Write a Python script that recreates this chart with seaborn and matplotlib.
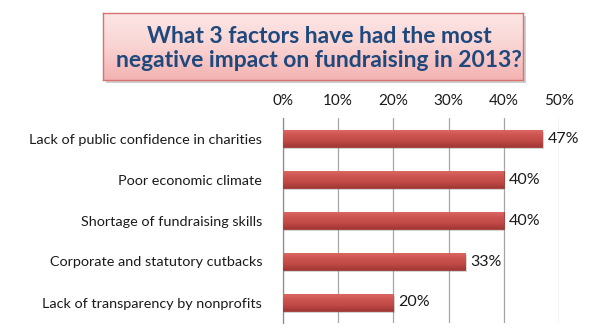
import matplotlib
matplotlib.use("Agg")
import matplotlib.pyplot as plt
import seaborn as sns
import pandas as pd
import numpy as np
from matplotlib.patches import FancyBboxPatch

factors = [
    "Lack of public confidence in charities",
    "Poor economic climate",
    "Shortage of fundraising skills",
    "Corporate and statutory cutbacks",
    "Lack of transparency by nonprofits",
]
shares = [47, 40, 40, 33, 20]
tick_values = [0, 10, 20, 30, 40, 50]
tick_labels = ["0%", "10%", "20%", "30%", "40%", "50%"]
title = "What 3 factors have had the most\nnegative impact on fundraising in 2013?"

df = pd.DataFrame({"factor": factors, "share": shares})

sns.set_style("white")
plt.rcParams["font.family"] = ["Lato", "DejaVu Sans"]

W, H = 600, 329
fig = plt.figure(figsize=(W / 100, H / 100), dpi=100)
ax = fig.add_axes([283 / W, 1 - 323 / H, (559 - 283) / W, (323 - 118) / H])

sns.barplot(data=df, x="share", y="factor", color="#C4504C", width=0.42,
            saturation=1, ax=ax, edgecolor="#9E3B38", linewidth=0.6, zorder=3)

# soft shading on each bar: lighter top edge, darker bottom edge
cmap = matplotlib.colors.LinearSegmentedColormap.from_list(
    "bar", ["#DD6A65", "#CE5551", "#C04A47", "#A33734"])
for p in ax.patches:
    x0, y0 = p.get_x(), p.get_y()
    w, h = p.get_width(), p.get_height()
    grad = np.linspace(0, 1, 64).reshape(-1, 1)
    im = ax.imshow(grad, extent=[x0, x0 + w, y0, y0 + h], aspect="auto",
                   cmap=cmap, zorder=3.5, origin="lower")
    im.set_clip_path(p)
    # drop shadow
    sh = matplotlib.patches.Rectangle((x0 + 0.25, y0 + h * 0.12), w, h,
                                      facecolor="#888888", alpha=0.35,
                                      edgecolor="none", zorder=2.5)
    ax.add_patch(sh)

for i, v in enumerate(shares):
    ax.text(v + 0.9, i, f"{v}%", va="center", ha="left", fontsize=11.5,
            color="#1a1a1a", zorder=5)

ax.set_xlim(0, 50)
ax.set_ylim(len(factors) - 0.5, -0.5)
ax.set_xticks(tick_values)
ax.set_xticklabels(tick_labels, fontsize=11, color="#1a1a1a")
ax.xaxis.tick_top()
ax.tick_params(axis="x", length=0, pad=7)
ax.set_yticks(range(len(factors)))
ax.set_yticklabels(factors, fontsize=10.4, color="#1a1a1a")
ax.tick_params(axis="y", length=0, pad=15)
# small marks between categories on the left axis
ax.set_yticks(np.arange(-0.5, len(factors), 1.0), minor=True)
ax.tick_params(axis="y", which="minor", length=5, color="#8c8c8c", width=0.8)
ax.set_xlabel("")
ax.set_ylabel("")
ax.grid(axis="x", color="#a6a6a6", linewidth=0.9, zorder=0)
ax.set_axisbelow(True)
for s in ["top", "right", "bottom"]:
    ax.spines[s].set_visible(False)
ax.spines["left"].set_color("#8c8c8c")
ax.spines["left"].set_linewidth(0.9)

# title box
bx0, by0, bx1, by1 = 103 / W, 1 - 80 / H, 523 / W, 1 - 13 / H
shadow = FancyBboxPatch((bx0 + 3 / W, by0 - 3 / H), bx1 - bx0, by1 - by0,
                        boxstyle="square,pad=0", transform=fig.transFigure,
                        facecolor="#b0b0b0", edgecolor="none", alpha=0.6,
                        zorder=0)
fig.patches.append(shadow)
tax = fig.add_axes([bx0, by0, bx1 - bx0, by1 - by0], zorder=1)
grad = np.linspace(0, 1, 64).reshape(-1, 1)
bcmap = matplotlib.colors.LinearSegmentedColormap.from_list(
    "box", ["#F3B2B1", "#F9D4D3", "#FCE6E6"])
tax.imshow(grad, extent=[0, 1, 0, 1], aspect="auto", cmap=bcmap, origin="lower")
tax.set_xlim(0, 1)
tax.set_ylim(0, 1)
tax.set_xticks([])
tax.set_yticks([])
for s in tax.spines.values():
    s.set_color("#D9716E")
    s.set_linewidth(1.0)
tax.text(0.515, 0.47, title, ha="center", va="center", fontsize=16.5,
         fontweight="bold", color="#1F497D", linespacing=1.2,
         transform=tax.transAxes)

fig.savefig("out.png", dpi=100, facecolor="white")
